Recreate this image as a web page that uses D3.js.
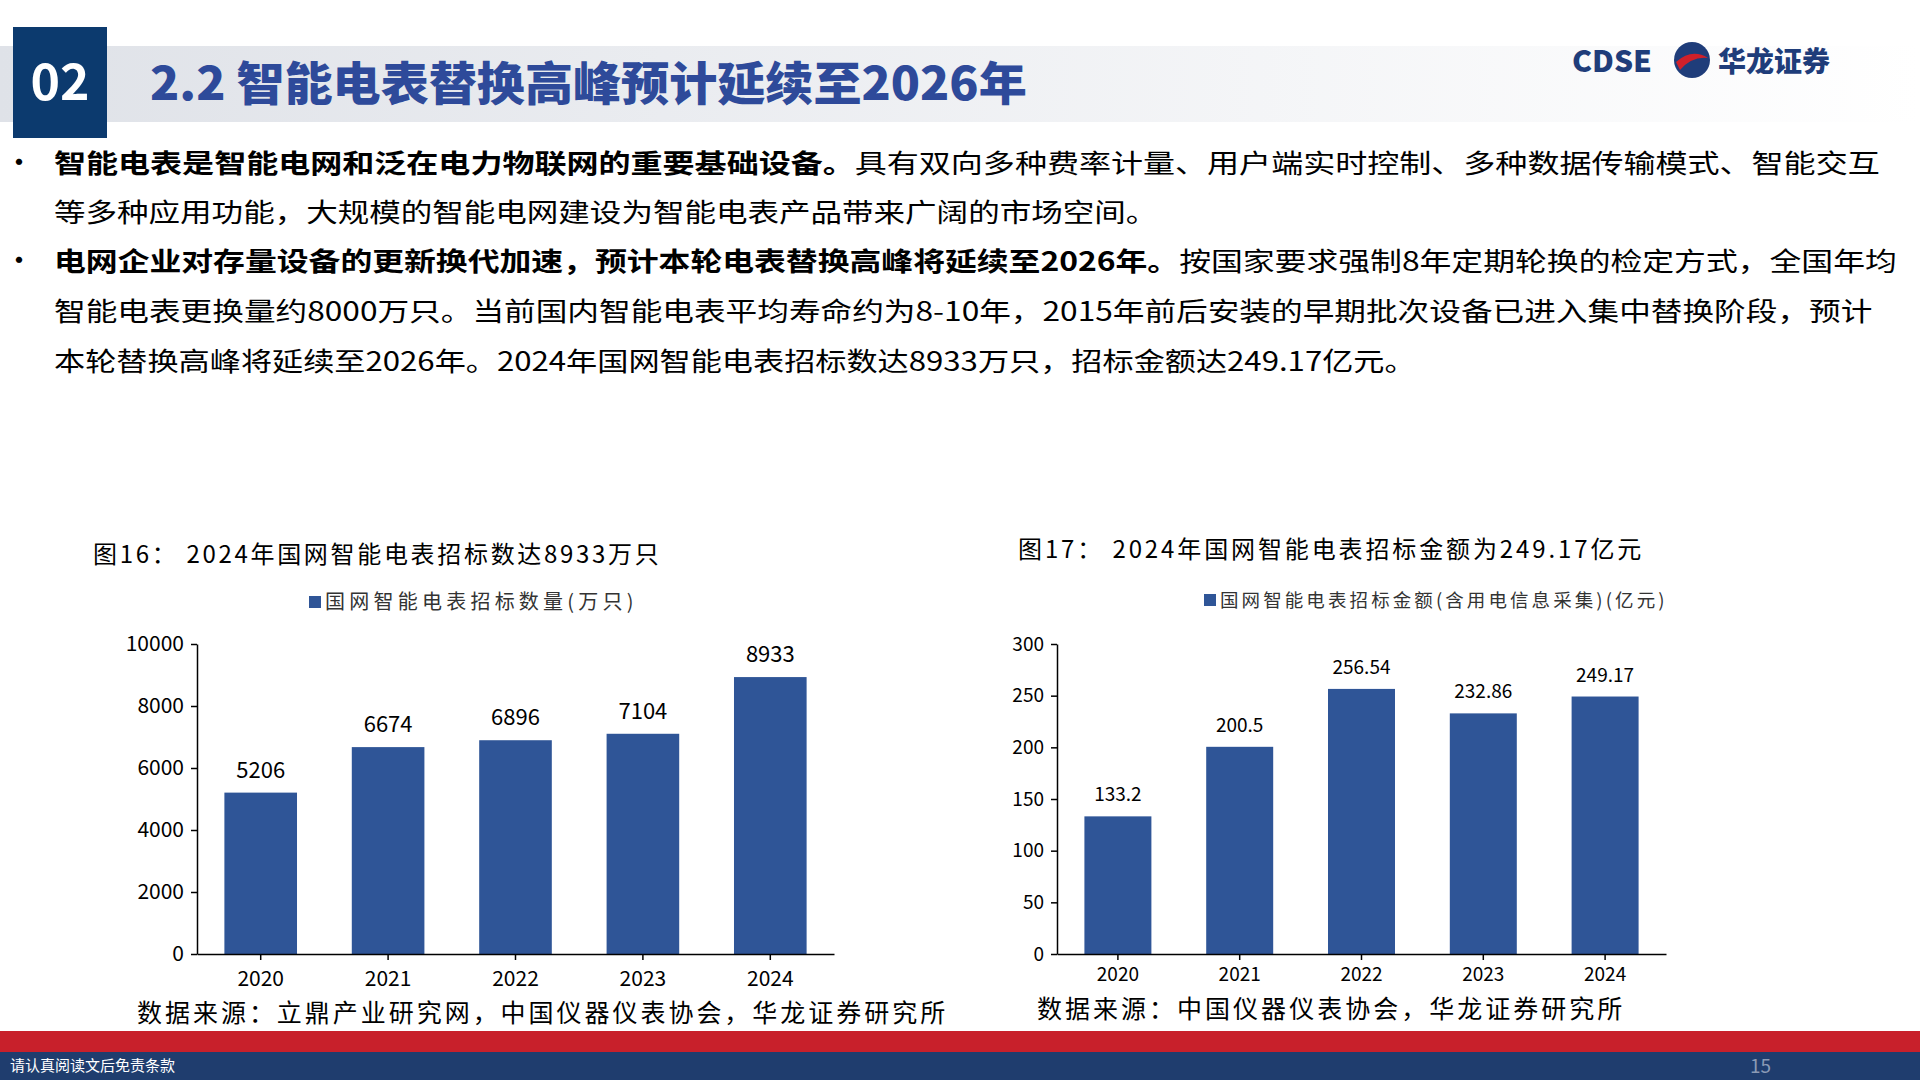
<!DOCTYPE html><html><head><meta charset="utf-8">
<script src="https://cdn.jsdelivr.net/npm/d3@7"></script>
<style>body{margin:0;background:#fff}svg{display:block}</style></head><body>
<svg id="s" width="1920" height="1080"></svg>
<script>
const years=["2020","2021","2022","2023","2024"];
const counts=[5206,6674,6896,7104,8933];
const amounts=[133.2,200.5,256.54,232.86,249.17];
const amountLabels=["133.2","200.5","256.54","232.86","249.17"];
const countTicks=[0,2000,4000,6000,8000,10000];
const amountTicks=[0,50,100,150,200,250,300];
const F="'Noto Sans CJK SC','Noto Sans',sans-serif";
const k=1920/1568;
const svg=d3.select("#s");
const defs=svg.append("defs");
const g=defs.append("linearGradient").attr("id","hg");
g.append("stop").attr("offset","0").attr("stop-color","#dfe2e8");
g.append("stop").attr("offset","1").attr("stop-color","#ffffff");
svg.append("rect").attr("x",0).attr("y",46).attr("width",1920).attr("height",76).attr("fill","url(#hg)");
svg.append("rect").attr("x",13).attr("y",27).attr("width",94).attr("height",111).attr("fill","#0c3a6e");
svg.append("text").attr("x",60).attr("y",100).attr("text-anchor","middle").attr("font-family",F).attr("font-weight",700).attr("font-size",50).attr("fill","#fff").text("02");
svg.append("text").attr("x",150).attr("y",100).attr("font-family",F).attr("font-weight",900).attr("font-size",46).attr("fill","#2e4a9a").attr("textLength",(838-122)*k).attr("lengthAdjust","spacingAndGlyphs").text("2.2 智能电表替换高峰预计延续至2026年");
svg.append("text").attr("x",1572).attr("y",72).attr("font-family",F).attr("font-weight",900).attr("font-size",30).attr("fill","#1f3d7a").text("CDSE");
svg.append("circle").attr("cx",1692).attr("cy",60).attr("r",18).attr("fill","#1f3d7a");
svg.append("path").attr("d","M1676,62 Q1692,48 1708,58 Q1692,56 1680,70 Z").attr("fill","#d0202a");
svg.append("text").attr("x",1718).attr("y",72).attr("font-family",F).attr("font-weight",900).attr("font-size",28).attr("fill","#1f3d7a").text("华龙证券");
const lines=[
 {y:173,b:true,w:1535,parts:[["智能电表是智能电网和泛在电力物联网的重要基础设备。",1],["具有双向多种费率计量、用户端实时控制、多种数据传输模式、智能交互",0]]},
 {y:222,w:945,parts:[["等多种应用功能，大规模的智能电网建设为智能电表产品带来广阔的市场空间。",0]]},
 {y:271,b:true,w:1549,parts:[["电网企业对存量设备的更新换代加速，预计本轮电表替换高峰将延续至2026年。",1],["按国家要求强制8年定期轮换的检定方式，全国年均",0]]},
 {y:321,w:1529,parts:[["智能电表更换量约8000万只。当前国内智能电表平均寿命约为8-10年，2015年前后安装的早期批次设备已进入集中替换阶段，预计",0]]},
 {y:371,w:1156,parts:[["本轮替换高峰将延续至2026年。2024年国网智能电表招标数达8933万只，招标金额达249.17亿元。",0]]}
];
lines.forEach(l=>{
 if(l.b) svg.append("text").attr("x",4).attr("y",l.y).attr("font-family",F).attr("font-size",30).text("•");
 const t=svg.append("text").attr("x",54).attr("y",l.y).attr("font-family",F).attr("font-size",26.5).attr("fill","#000").attr("textLength",(l.w-44)*k).attr("lengthAdjust","spacingAndGlyphs");
 l.parts.forEach(p=>t.append("tspan").attr("font-weight",p[1]?700:400).text(p[0]));
});
function chart(o){
 svg.append("text").attr("x",o.tx).attr("y",o.ty).attr("font-family",F).attr("font-size",24).attr("textLength",o.tw).text(o.title);
 svg.append("rect").attr("x",o.lx).attr("y",o.ly-13).attr("width",12).attr("height",12).attr("fill","#2f5597");
 svg.append("text").attr("x",o.lx+16).attr("y",o.ly).attr("font-family",F).attr("font-size",o.lf).attr("fill","#333").attr("textLength",o.lw).text(o.legend);
 const x=d3.scaleBand().domain(years).range([o.x0,o.x1]).paddingInner(o.pad).paddingOuter(o.pad/2);
 const y=d3.scaleLinear().domain([0,o.max]).range([954,644]);
 const ga=svg.append("g");
 ga.selectAll("rect").data(o.vals).enter().append("rect").attr("x",(d,i)=>x(years[i])).attr("y",d=>y(d)).attr("width",x.bandwidth()).attr("height",d=>954-y(d)).attr("fill","#2f5597");
 ga.selectAll(".v").data(o.vals).enter().append("text").attr("x",(d,i)=>x(years[i])+x.bandwidth()/2).attr("y",d=>y(d)-15).attr("text-anchor","middle").attr("font-family",F).attr("font-size",o.vf).text((d,i)=>o.labels[i]);
 const ay=svg.append("g").attr("transform",`translate(${o.x0},0)`).call(d3.axisLeft(y).tickValues(o.ticks).tickFormat(d3.format("d")).tickSize(6).tickSizeOuter(0));
 const ax=svg.append("g").attr("transform","translate(0,954)").call(d3.axisBottom(x).tickSize(6).tickSizeOuter(0));
 [ay,ax].forEach(a=>{a.selectAll("text").attr("font-family",F).attr("font-size",o.af).attr("fill","#000");a.selectAll("path,line").attr("stroke","#000").attr("stroke-width",1.5);});
 ay.selectAll("text").attr("dx",-4);
 ax.selectAll("text").attr("dy",o.xdy);
 svg.append("text").attr("x",o.sx).attr("y",o.sy).attr("font-family",F).attr("font-size",25).attr("textLength",o.sw).text(o.source);
}
chart({title:"图16：  2024年国网智能电表招标数达8933万只",tx:93,ty:563,tw:(538-76)*k,lx:309,ly:609,lf:20,lw:(518-266)*k,legend:"国网智能电表招标数量(万只)",x0:197,x1:834,pad:0.43,max:10000,vals:counts,labels:counts.map(String),ticks:countTicks,vf:22,af:21,xdy:"1.1em",sx:137,sy:1022,sw:(772-112)*k,source:"数据来源：立鼎产业研究网，中国仪器仪表协会，华龙证券研究所"});
chart({title:"图17：  2024年国网智能电表招标金额为249.17亿元",tx:1018,ty:558,tw:(1340-831)*k,lx:1204,ly:607,lf:18.5,lw:(1360-997)*k,legend:"国网智能电表招标金额(含用电信息采集)(亿元)",x0:1057,x1:1666,pad:0.45,max:300,vals:amounts,labels:amountLabels,ticks:amountTicks,vf:19,af:19,xdy:"0.95em",sx:1037,sy:1018,sw:(1325-847)*k,source:"数据来源：中国仪器仪表协会，华龙证券研究所"});
svg.append("rect").attr("x",0).attr("y",1031).attr("width",1920).attr("height",21).attr("fill","#c8202b");
svg.append("rect").attr("x",0).attr("y",1052).attr("width",1920).attr("height",28).attr("fill","#1f3d6e");
svg.append("text").attr("x",10).attr("y",1071).attr("font-family",F).attr("font-size",15).attr("fill","#fff").text("请认真阅读文后免责条款");
svg.append("text").attr("x",1750).attr("y",1073).attr("font-family",F).attr("font-size",19).attr("fill","#8a9ab5").text("15");
</script></body></html>
